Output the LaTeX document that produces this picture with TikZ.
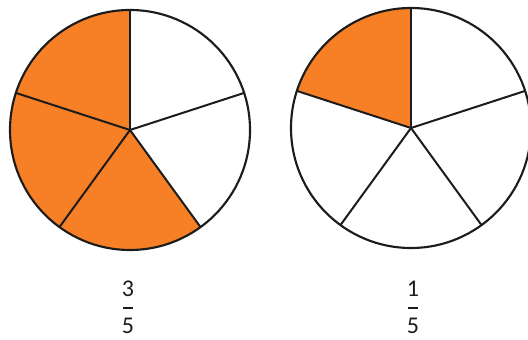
\documentclass[tikz,border=0pt]{standalone}
\usepackage{fontspec}
\setmainfont{Carlito}
\usetikzlibrary{positioning}
\definecolor{pieorange}{RGB}{247,128,38}
\definecolor{pieedge}{RGB}{28,28,28}
\tikzset{
  slice/.style={fill=pieorange},
  rim/.style={draw=pieedge, line width=1.6pt},
  spoke/.style={draw=pieedge, line width=1.5pt},
  digit/.style={font=\fontsize{18}{18}\selectfont, inner sep=0pt, text=pieedge},
  fbar/.style={draw=pieedge, line width=1.5pt}
}

\begin{document}
\begin{tikzpicture}[x=0.75pt,y=0.75pt]
  \useasboundingbox (0,0) rectangle (528,339);
  \coordinate (cl) at (130,209);
  \coordinate (cr) at (411,211);
  % shaded parts
  \fill[slice] (cl) -- ++(90:120) arc[start angle=90, end angle=306, radius=120] -- cycle;
  \fill[slice] (cr) -- ++(90:120) arc[start angle=90, end angle=162, radius=120] -- cycle;
  % spokes and rims
  \foreach \c in {cl,cr}{
    \foreach \a in {90,18,-54,-126,162}
      \draw[spoke] (\c) -- ++(\a:120);
    \draw[rim] (\c) circle[radius=120];
  }
  % fractions
  \node[digit] (numl) at (128,50) {3};
  \node[digit] (denl) at (128,13) {5};
  \draw[fbar] (123,31) -- (133,31);
  \node[digit] (numr) at (413,50) {1};
  \node[digit] (denr) at (413,13) {5};
  \draw[fbar] (408,31) -- (418,31);
\end{tikzpicture}
\end{document}
